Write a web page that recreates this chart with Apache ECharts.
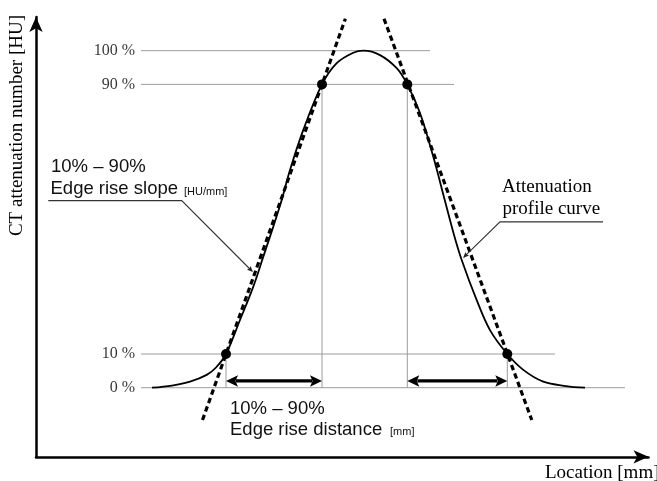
<!DOCTYPE html>
<html>
<head>
<meta charset="utf-8">
<style>
  html, body { margin: 0; padding: 0; background: #fff; }
  #chart { width: 657px; height: 481px; }
</style>
<script src="https://cdn.jsdelivr.net/npm/echarts@6/dist/echarts.min.js"></script>
</head>
<body>
<div id="chart"></div>
<script>
// ---- data (x in mm, y in % of peak) ----
const curveX = [11.6, 13.6, 15.4, 17.07, 18.0, 19.0, 20.4, 21.73, 22.73, 23.73, 24.57, 25.4, 26.73, 28.6, 30.07, 31.73, 32.73, 34.4, 36.07, 37.13, 38.4, 39.73, 40.9, 41.75, 42.57, 44.07, 45.4, 47.13, 48.73, 50.73, 53.0, 54.9];
const curveY = [0, 0.65, 1.8, 3.8, 6.0, 10, 20.1, 30.0, 38.9, 47.8, 55.7, 64.6, 76.5, 90, 96.3, 99.4, 100, 98.7, 94.8, 90, 81.5, 68.5, 55.4, 45.9, 37.9, 26.0, 17.1, 10, 5.3, 1.8, 0.5, 0];

const levels = [0, 10, 90, 100];
const tickLabels = ['0 %', '10 %', '90 %', '100 %'];
const levelLineStart = 10.5;
const levelLineEnd = [58.9, 51.9, 41.8, 39.4];

const crossX = [19.0, 28.6, 37.13, 47.13];
const crossY = [10, 90, 90, 10];

const leftTangentX = [16.65, 30.94];
const leftTangentY = [-9.6, 109.5];
const rightTangentX = [34.8, 49.58];
const rightTangentY = [109.5, -9.6];

const distArrowFrom = [19.0, 37.13];
const distArrowTo = [28.6, 47.13];
const distArrowY = 2.0;

const slopeLeaderX = [1.23, 14.57, 21.7];
const slopeLeaderY = [55.5, 55.5, 34.3];
const curveLeaderX = [56.7, 46.4, 42.7];
const curveLeaderY = [49.2, 49.2, 38.5];

const xMin = 0, xMax = 61.25;
const yMin = -20.5, yMax = 110;

// ---- chart ----
const SERIF = '"Liberation Serif", "Times New Roman", serif';
const SANS = '"Liberation Sans", Arial, sans-serif';
const chart = echarts.init(document.getElementById('chart'), null, { renderer: 'canvas' });

function headPoly(tip, dir, len, half, notch) {
  const [dx, dy] = dir;
  const nx = -dy, ny = dx;
  const bx = tip[0] - dx * len, by = tip[1] - dy * len;
  const mx = tip[0] - dx * notch, my = tip[1] - dy * notch;
  return [tip, [bx + nx * half, by + ny * half], [mx, my], [bx - nx * half, by - ny * half]];
}

const series = [];

// gray reference levels
levels.forEach((v, i) => {
  series.push({
    type: 'line', silent: true, z: 1, showSymbol: false,
    data: [[levelLineStart, v], [levelLineEnd[i], v]],
    lineStyle: { color: '#9c9c9c', width: 1 }
  });
});
// gray verticals
crossX.forEach((x, i) => {
  series.push({
    type: 'line', silent: true, z: 1, showSymbol: false,
    data: [[x, 0], [x, crossY[i]]],
    lineStyle: { color: '#9c9c9c', width: 1 }
  });
});
// tick labels
series.push({
  type: 'scatter', silent: true, z: 2, symbolSize: 0,
  data: levels.map(v => [levelLineStart, v]),
  label: {
    show: true, position: 'left', distance: 6,
    formatter: p => tickLabels[p.dataIndex],
    fontFamily: SERIF, fontSize: 16, color: '#000'
  }
});
// profile curve
series.push({
  type: 'line', silent: true, z: 3, showSymbol: false, smooth: 0.35,
  data: curveX.map((x, i) => [x, curveY[i]]),
  lineStyle: { color: '#000', width: 1.8 }
});
// tangent dashed lines
[[leftTangentX, leftTangentY], [rightTangentX, rightTangentY]].forEach(([xs, ys]) => {
  series.push({
    type: 'line', silent: true, z: 4, showSymbol: false,
    data: xs.map((x, i) => [x, ys[i]]),
    lineStyle: { color: '#000', width: 3.2, type: [5.5, 3.5] }
  });
});
// dots
series.push({
  type: 'scatter', silent: true, z: 5, symbolSize: 10,
  data: crossX.map((x, i) => [x, crossY[i]]),
  itemStyle: { color: '#000', opacity: 1 }
});
// double arrows
series.push({
  type: 'custom', silent: true, z: 5,
  data: distArrowFrom.map((x, i) => [x, distArrowTo[i], distArrowY]),
  encode: { x: [0, 1], y: 2 },
  renderItem: (params, api) => {
    const a = api.coord([api.value(0), api.value(2)]);
    const b = api.coord([api.value(1), api.value(2)]);
    const L = 12;
    return {
      type: 'group',
      children: [
        { type: 'line', shape: { x1: a[0] + L - 2, y1: a[1], x2: b[0] - L + 2, y2: b[1] },
          style: { stroke: '#000', lineWidth: 3.2 } },
        { type: 'polygon', shape: { points: headPoly(a, [-1, 0], L, 5.8, 9.5) }, style: { fill: '#000' } },
        { type: 'polygon', shape: { points: headPoly(b, [1, 0], L, 5.8, 9.5) }, style: { fill: '#000' } }
      ]
    };
  }
});
// leader lines
series.push({
  type: 'custom', silent: true, z: 5,
  data: [
    [slopeLeaderX[0], slopeLeaderY[0], slopeLeaderX[1], slopeLeaderY[1], slopeLeaderX[2], slopeLeaderY[2]],
    [curveLeaderX[0], curveLeaderY[0], curveLeaderX[1], curveLeaderY[1], curveLeaderX[2], curveLeaderY[2]]
  ],
  encode: { x: [0, 2, 4], y: [1, 3, 5] },
  renderItem: (params, api) => {
    const p0 = api.coord([api.value(0), api.value(1)]);
    const p1 = api.coord([api.value(2), api.value(3)]);
    const p2 = api.coord([api.value(4), api.value(5)]);
    const dx = p2[0] - p1[0], dy = p2[1] - p1[1];
    const len = Math.hypot(dx, dy);
    const dir = [dx / len, dy / len];
    return {
      type: 'group',
      children: [
        { type: 'polyline', shape: { points: [p0, p1, [p2[0] - dir[0] * 3, p2[1] - dir[1] * 3]] },
          style: { stroke: '#333', lineWidth: 1.1, fill: null } },
        { type: 'polygon', shape: { points: headPoly(p2, dir, 6, 2.5, 5) }, style: { fill: '#222' } }
      ]
    };
  }
});

const option = {
  animation: false,
  backgroundColor: '#fff',
  grid: { left: 36, right: 657 - 648.5, top: 17, bottom: 24.2 },
  xAxis: {
    type: 'value', min: xMin, max: xMax,
    axisLine: { onZero: false, lineStyle: { color: '#000', width: 2.5 }, symbol: ['none', 'arrow'], symbolSize: [10, 15] },
    axisTick: { show: false }, axisLabel: { show: false }, splitLine: { show: false }
  },
  yAxis: {
    type: 'value', min: yMin, max: yMax,
    axisLine: { show: true, onZero: false, lineStyle: { color: '#000', width: 2.5 }, symbol: ['none', 'arrow'], symbolSize: [10, 15] },
    axisTick: { show: false }, axisLabel: { show: false }, splitLine: { show: false }
  },
  graphic: [
    { type: 'text', x: 17, y: 15, rotation: Math.PI / 2, silent: true,
      style: { text: 'CT attenuation number [HU]', font: '19px ' + SERIF, fill: '#000', textAlign: 'right', textVerticalAlign: 'middle' } },
    { type: 'text', x: 545, y: 473.5, silent: true,
      style: { text: 'Location [mm]', font: '19px ' + SERIF, fill: '#000', textAlign: 'left', textVerticalAlign: 'middle' } },
    { type: 'text', x: 51, y: 167, silent: true,
      style: { text: '10% – 90%', font: '18.5px ' + SANS, fill: '#111', textAlign: 'left', textVerticalAlign: 'middle' } },
    { type: 'text', x: 50.5, y: 188.5, silent: true,
      style: { text: 'Edge rise slope', font: '18.5px ' + SANS, fill: '#111', textAlign: 'left', textVerticalAlign: 'middle' } },
    { type: 'text', x: 184, y: 192, silent: true,
      style: { text: '[HU/mm]', font: '11px ' + SANS, fill: '#111', textAlign: 'left', textVerticalAlign: 'middle' } },
    { type: 'text', x: 502, y: 187, silent: true,
      style: { text: 'Attenuation', font: '19px ' + SERIF, fill: '#000', textAlign: 'left', textVerticalAlign: 'middle' } },
    { type: 'text', x: 502.5, y: 209, silent: true,
      style: { text: 'profile curve', font: '19px ' + SERIF, fill: '#000', textAlign: 'left', textVerticalAlign: 'middle' } },
    { type: 'text', x: 230, y: 408.5, silent: true,
      style: { text: '10% – 90%', font: '18.5px ' + SANS, fill: '#111', textAlign: 'left', textVerticalAlign: 'middle' } },
    { type: 'text', x: 230, y: 429.5, silent: true,
      style: { text: 'Edge rise distance', font: '18.5px ' + SANS, fill: '#111', textAlign: 'left', textVerticalAlign: 'middle' } },
    { type: 'text', x: 390, y: 432, silent: true,
      style: { text: '[mm]', font: '11px ' + SANS, fill: '#111', textAlign: 'left', textVerticalAlign: 'middle' } }
  ],
  series: series
};
chart.setOption(option);
</script>
</body>
</html>
